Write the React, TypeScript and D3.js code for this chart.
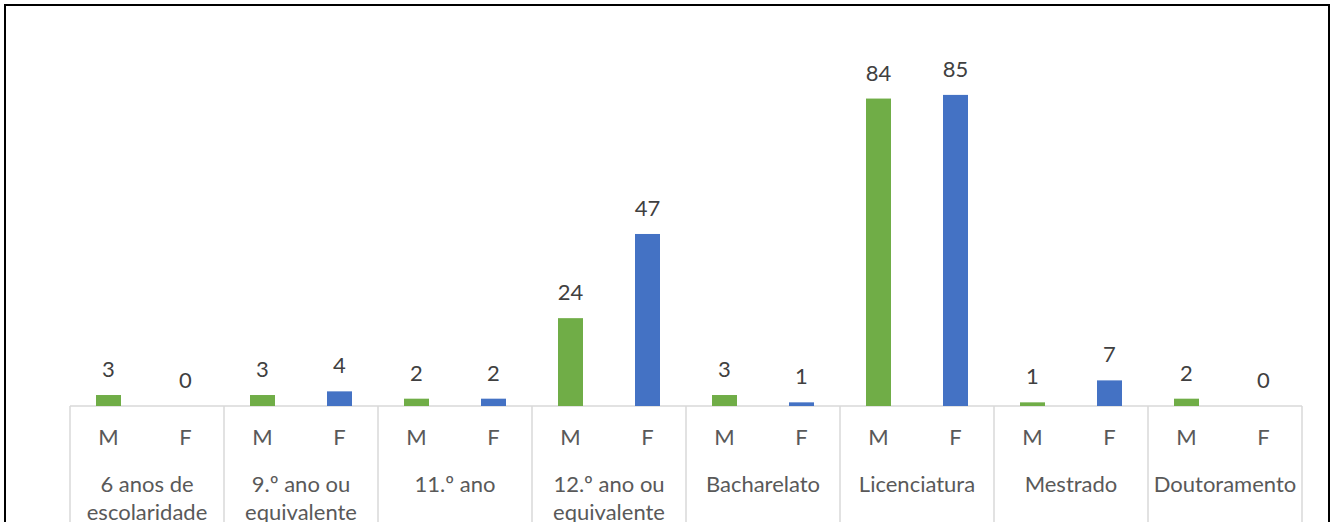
import React from "react";
import * as d3 from "d3";

const categories: string[][] = [
  ["6 anos de", "escolaridade"],
  ["9.º ano ou", "equivalente"],
  ["11.º ano"],
  ["12.º ano ou", "equivalente"],
  ["Bacharelato"],
  ["Licenciatura"],
  ["Mestrado"],
  ["Doutoramento"],
];
const genders = ["M", "F"];
const maleValues = [3, 3, 2, 24, 3, 84, 1, 2];
const femaleValues = [0, 4, 2, 47, 1, 85, 7, 0];
const colors: Record<string, string> = { M: "#70AD47", F: "#4472C4" };

const W = 1337;
const H = 522;
const left = 70;
const right = 1302;
const baseY = 406;

export default function App() {
  const x0 = d3
    .scaleBand<number>()
    .domain(categories.map((_, i) => i))
    .range([left, right])
    .padding(0);
  const p = 52 / 77;
  const x1 = d3
    .scaleBand<string>()
    .domain(genders)
    .range([0, x0.bandwidth()])
    .paddingInner(p)
    .paddingOuter(p / 2);
  const y = d3.scaleLinear().domain([0, 90]).range([baseY, baseY - 90 * 3.66]);

  const font = "Lato, 'Open Sans', sans-serif";
  const fs = 22;
  const bounds = categories.map((_, i) => x0(i)!).concat([right]);

  return (
    <svg
      width={W}
      height={H}
      style={{ position: "absolute", left: 0, top: 0, background: "#fff" }}
      fontFamily={font}
    >
      <rect x={5} y={5} width={1324} height={600} fill="#fff" stroke="#000" strokeWidth={2} />
      <line x1={left} x2={right} y1={baseY} y2={baseY} stroke="#D9D9D9" strokeWidth={1.5} />
      {bounds.map((bx, i) => (
        <line key={"s" + i} x1={bx} x2={bx} y1={baseY} y2={H} stroke="#D9D9D9" strokeWidth={1.5} />
      ))}
      {categories.map((cat, i) => {
        const gx = x0(i)!;
        const vals = [maleValues[i], femaleValues[i]];
        return (
          <g key={i}>
            {genders.map((g, j) => {
              const bx = gx + x1(g)!;
              const v = vals[j];
              const cx = bx + x1.bandwidth() / 2;
              return (
                <g key={g}>
                  <rect x={bx} y={y(v)} width={x1.bandwidth()} height={baseY - y(v)} fill={colors[g]} />
                  <text x={cx} y={y(v) - 18} textAnchor="middle" fontSize={fs} fill="#404040">
                    {v}
                  </text>
                  <text x={cx} y={445} textAnchor="middle" fontSize={fs} fill="#595959">
                    {g}
                  </text>
                </g>
              );
            })}
            {cat.map((line, k) => (
              <text
                key={k}
                x={gx + x0.bandwidth() / 2}
                y={492 + k * 28}
                textAnchor="middle"
                fontSize={fs}
                fill="#595959"
              >
                {line}
              </text>
            ))}
          </g>
        );
      })}
    </svg>
  );
}
